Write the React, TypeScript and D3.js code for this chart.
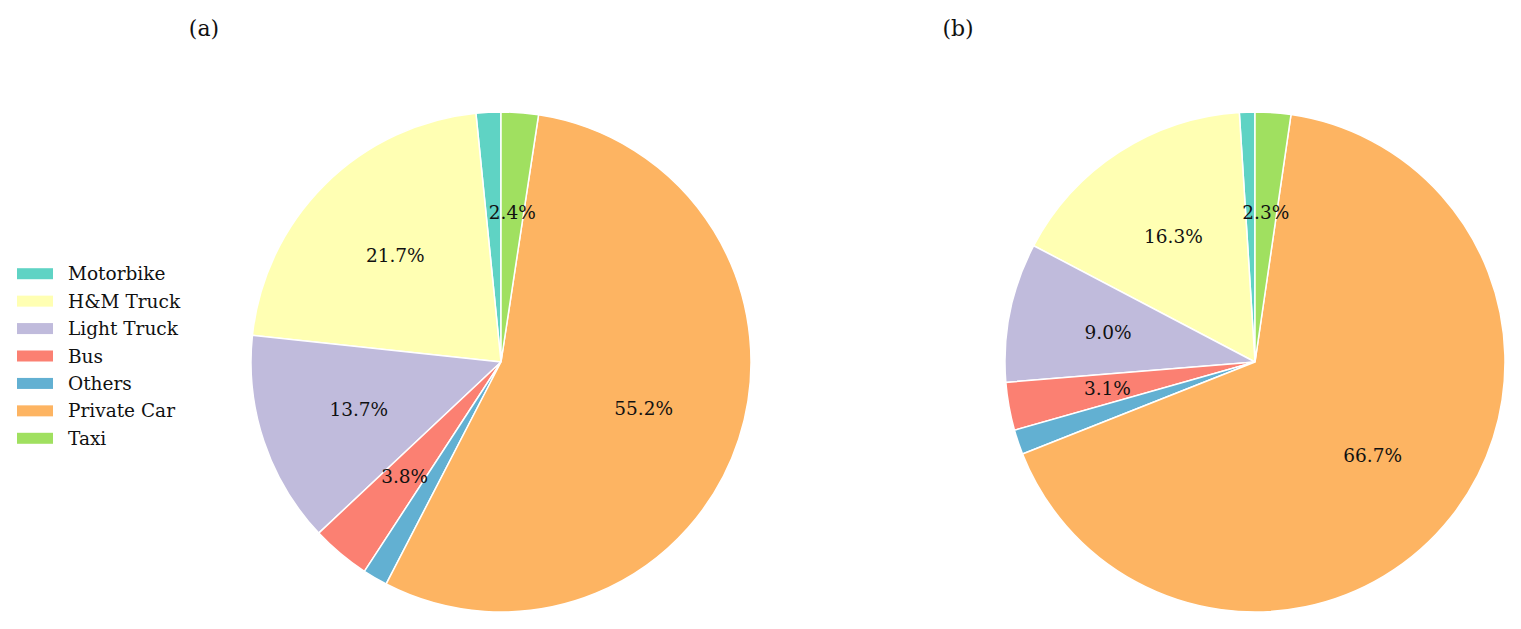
import React from "react";
import * as d3 from "d3";

const CATEGORIES = ["Motorbike", "H&M Truck", "Light Truck", "Bus", "Others", "Private Car", "Taxi"];
const COLORS = ["#5fd3c4", "#ffffb3", "#c0bbdc", "#fb8072", "#62b0d2", "#fdb462", "#a0e060"];
const SHARES_A = [1.6, 21.7, 13.7, 3.8, 1.6, 55.2, 2.4];
const SHARES_B = [1.0, 16.3, 9.0, 3.1, 1.6, 66.7, 2.3];
const TITLES = ["(a)", "(b)"];

const W = 1505;
const H = 629;
const R = 250;
const FONT = "'DejaVu Serif', serif";

type PieProps = { cx: number; cy: number; values: number[] };

const Pie = ({ cx, cy, values }: PieProps) => {
  const pie = d3
    .pie<number>()
    .sort(null)
    .value((d) => d)
    .startAngle(0)
    .endAngle(-2 * Math.PI);
  const arcs = pie(values);
  const arc = d3.arc<d3.PieArcDatum<number>>().innerRadius(0).outerRadius(R);
  const labelArc = d3.arc<d3.PieArcDatum<number>>().innerRadius(R * 0.6).outerRadius(R * 0.6);
  const total = d3.sum(values);

  return (
    <g transform={`translate(${cx},${cy})`}>
      {arcs.map((a, i) => (
        <path key={i} d={arc(a) || ""} fill={COLORS[i]} stroke="#fff" strokeWidth={1.5} strokeLinejoin="round" />
      ))}
      {arcs.map((a, i) => {
        const pct = (a.value / total) * 100;
        if (pct < 2) return null;
        const [x, y] = labelArc.centroid(a);
        return (
          <text key={i} x={x} y={y} textAnchor="middle" dominantBaseline="central" fontSize={18.5} fontFamily={FONT} fill="#111">
            {pct.toFixed(1)}%
          </text>
        );
      })}
    </g>
  );
};

export default function App() {
  const legendY = d3.scaleBand<string>().domain(CATEGORIES).range([260, 452]);
  return (
    <svg width={W} height={H} style={{ display: "block", margin: "-8px 0 0 -8px" }}>
      <rect width={W} height={H} fill="#fff" />
      <text x={204} y={28} textAnchor="middle" dominantBaseline="central" fontSize={22} fontFamily={FONT} fill="#111">{TITLES[0]}</text>
      <text x={958} y={28} textAnchor="middle" dominantBaseline="central" fontSize={22} fontFamily={FONT} fill="#111">{TITLES[1]}</text>
      <Pie cx={501} cy={362} values={SHARES_A} />
      <Pie cx={1255} cy={362} values={SHARES_B} />
      <g>
        {CATEGORIES.map((c, i) => {
          const y = (legendY(c) || 0) + legendY.bandwidth() / 2;
          return (
            <g key={c}>
              <rect x={17} y={y - 5.5} width={36} height={11} fill={COLORS[i]} />
              <text x={68} y={y} dominantBaseline="central" fontSize={18.5} fontFamily={FONT} fill="#111">{c}</text>
            </g>
          );
        })}
      </g>
    </svg>
  );
}
